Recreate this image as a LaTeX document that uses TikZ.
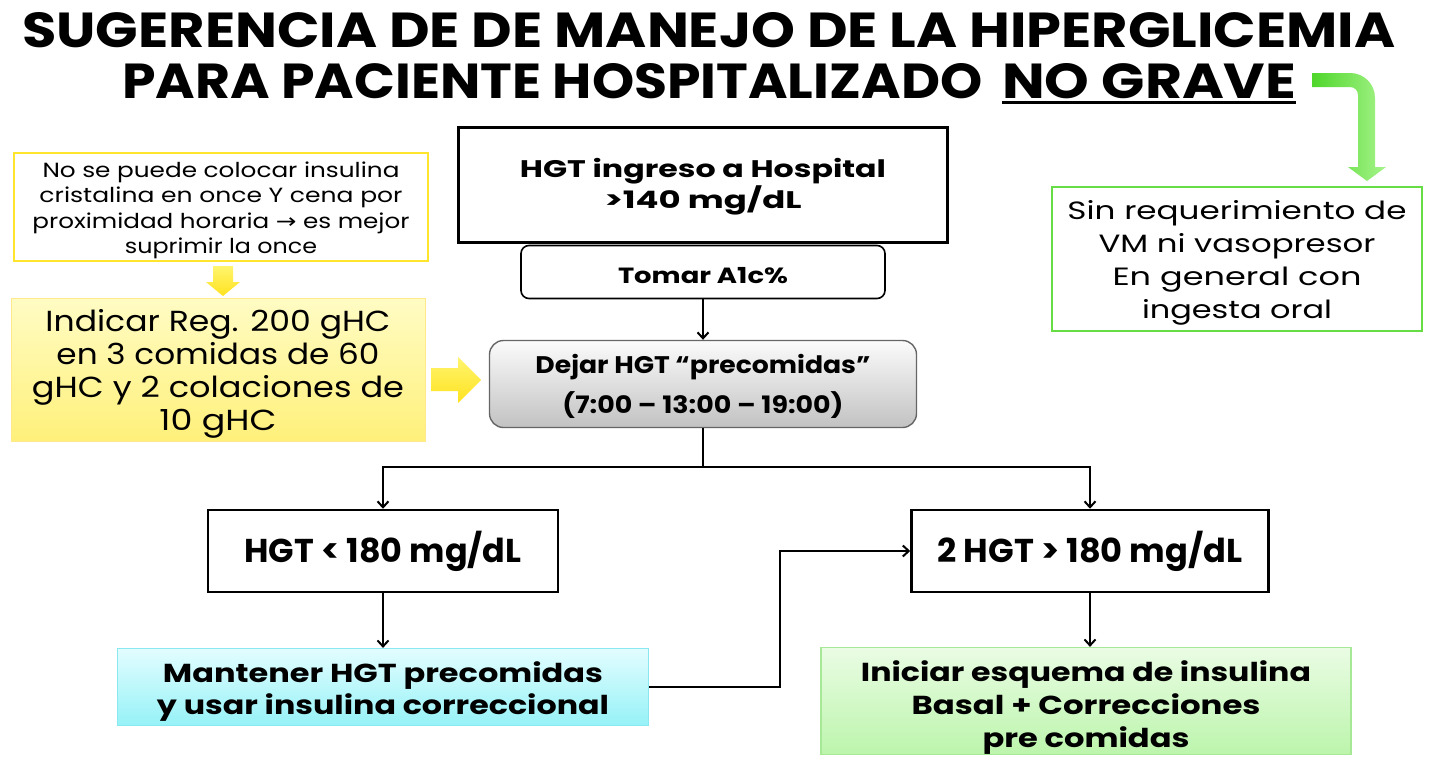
\documentclass[tikz,border=0pt]{standalone}
\usepackage{fontspec}
\setmainfont{Poppins}
\newfontfamily\dejavu{DejaVu Sans}
\usetikzlibrary{arrows.meta}
\newcommand\sH{20}
\newcommand\sD{5}
\newcommand\fl[2]{\rule[-\sD pt]{0pt}{\dimexpr\sH pt+\sD pt\relax}\smash{\resizebox{#1pt}{\height}{#2}}}
\newcommand\vst[2]{\def\sH{#1}\def\sD{#2}}
\definecolor{yOut}{HTML}{FFE52E}
\definecolor{yTop}{HTML}{FFFCC4}
\definecolor{yBot}{HTML}{FFF07A}
\definecolor{yBrd}{HTML}{FFE98A}
\definecolor{arA}{HTML}{FFF56E}
\definecolor{arB}{HTML}{FFE21F}
\definecolor{gBrd}{HTML}{66DD44}
\definecolor{grA}{HTML}{4FD62B}
\definecolor{grB}{HTML}{A6F48A}
\definecolor{cTop}{HTML}{E2FDFF}
\definecolor{cBot}{HTML}{96F2F7}
\definecolor{cBrd}{HTML}{8AE8F0}
\definecolor{lgTop}{HTML}{EAFCE4}
\definecolor{lgBot}{HTML}{BCF5AC}
\definecolor{lgBrd}{HTML}{A6E896}
\definecolor{dTop}{HTML}{FBFBFB}
\definecolor{dBot}{HTML}{C2C2C2}
\begin{document}
\begin{tikzpicture}[x=1pt,y=-1pt,
  blk/.style={draw=black,line width=2.5pt,inner sep=0pt,align=center},
  conn/.style={draw=black,line width=2pt},
  arr/.style={conn,-{Straight Barb[length=6pt,width=11pt]}},
  ttl/.style={anchor=base west,inner sep=0pt,font=\bfseries}]
\path[use as bounding box,fill=white] (0,0) rectangle (1429,776);

% title
\node[ttl] (t1) at (22,47) {\resizebox{1373pt}{35pt}{SUGERENCIA DE DE MANEJO DE LA HIPERGLICEMIA}};
\node[ttl] (t2) at (122,98) {\resizebox{860pt}{35pt}{PARA PACIENTE HOSPITALIZADO}};
\node[ttl] (t3) at (1002,98) {\resizebox{294pt}{35pt}{NO GRAVE}};
\draw[line width=3pt] ([yshift=-4pt]t3.base west) -- ([yshift=-4pt]t3.base east);

% green bent arrow
\path[left color=grA,right color=grB] (1312,73) -- (1350,73) .. controls (1364,73) and (1375,84) .. (1375,98) -- (1375,167) -- (1386,167) -- (1367,181) -- (1348,167) -- (1358,167) -- (1358,95) .. controls (1358,90) and (1354,87) .. (1350,87) -- (1312,87) -- cycle;

% green outlined box
\node[draw=gBrd,line width=2.5pt,minimum width=370pt,minimum height=144pt,inner sep=0pt,align=center,
  font=\fontsize{25}{33}\selectfont\vst{26.25}{6.75}] (gbox) at (1237,259)
  {\fl{339}{Sin requerimiento de}\\\fl{277}{VM ni vasopresor}\\\fl{249}{En general con}\\\fl{190}{ingesta oral}};

% yellow outlined note
\node[draw=yOut,line width=2.5pt,minimum width=414pt,minimum height=108pt,inner sep=0pt,align=center,
  font=\fontsize{20.5}{25.5}\selectfont\vst{21.4}{4.1}] (note) at (221,207)
  {\fl{357}{No se puede colocar insulina}\\\fl{363}{cristalina en once Y cena por}\\\fl{377}{proximidad horaria {\dejavu →} es mejor}\\\fl{192}{suprimir la once}};

% small yellow arrow
\path[top color=arA,bottom color=arB] (213,266) -- (233,266) -- (233,282) -- (240,282) -- (223,296) -- (206,282) -- (213,282) -- cycle;

% yellow filled box
\node[draw=yBrd,line width=1pt,top color=yTop,bottom color=yBot,minimum width=414pt,minimum height=143pt,inner sep=0pt,align=center,
  font=\fontsize{29}{33}\selectfont\vst{27.65}{5.35}] (reg) at (218,370)
  {\fl{345}{Indicar Reg. 200 gHC}\\\fl{323}{en 3 comidas de 60}\\\fl{372}{gHC y 2 colaciones de}\\\fl{117}{10 gHC}};

% yellow right arrow
\path[top color=arA,bottom color=arB] (431,368) -- (458,368) -- (458,357) -- (481,380) -- (458,403) -- (458,391) -- (431,391) -- cycle;

% main flow
\node[blk,minimum width=489pt,minimum height=115pt,font=\bfseries\fontsize{24}{31}\selectfont\vst{23.9}{7.1}] (hosp) at (703,185)
  {\fl{366}{HGT ingreso a Hospital}\\\fl{197}{>140 mg/dL}};
\node[blk,line width=1.6pt,rounded corners=8pt,minimum width=364pt,minimum height=53pt,font=\bfseries\fontsize{22}{26}\selectfont\vst{26}{2.6}] (tomar) at (703,272)
  {\fl{170}{Tomar A1c\%}};
\node[blk,draw=black!60,line width=1.4pt,rounded corners=14pt,top color=dTop,bottom color=dBot,minimum width=427pt,minimum height=87pt,
  font=\bfseries\fontsize{24}{40}\selectfont\vst{29.4}{10.6}] (dejar) at (703,384)
  {\fl{335}{Dejar HGT “precomidas”}\\\fl{281}{(7:00 – 13:00 – 19:00)}};
\node[blk,minimum width=350pt,minimum height=82pt,font=\bfseries\fontsize{33}{36}\selectfont\vst{30}{7}] (lt) at (383,551)
  {\fl{277}{HGT < 180 mg/dL}};
\node[blk,minimum width=357pt,minimum height=82pt,font=\bfseries\fontsize{33}{36}\selectfont\vst{30}{7}] (rt) at (1090,551)
  {\fl{305}{2 HGT > 180 mg/dL}};
\node[blk,draw=cBrd,line width=1.2pt,top color=cTop,bottom color=cBot,minimum width=531pt,minimum height=77pt,
  font=\bfseries\fontsize{26}{32}\selectfont\vst{27.6}{4.4}] (mant) at (383,687)
  {\fl{440}{Mantener HGT precomidas}\\\fl{452}{y usar insulina correccional}};
\node[blk,draw=lgBrd,line width=1.2pt,top color=lgTop,bottom color=lgBot,minimum width=530pt,minimum height=107pt,
  font=\bfseries\fontsize{26}{33}\selectfont\vst{29.6}{3.4}] (inic) at (1086,701)
  {\fl{450}{Iniciar esquema de insulina}\\\fl{349}{Basal + Correcciones}\\\fl{207}{pre comidas}};

% connectors
\coordinate (split) at (703,467);
\draw[arr] (tomar.south) -- (dejar.north);
\draw[conn] (dejar.south) -- (split);
\draw[arr] (split) -| (lt.north);
\draw[arr] (split) -| (rt.north);
\draw[arr] (lt.south) -- (mant.north);
\draw[arr] (rt.south) -- (rt.south |- inic.north);
\draw[arr] (mant.east) -- ++(131,0) |- (rt.west);
\end{tikzpicture}
\end{document}
